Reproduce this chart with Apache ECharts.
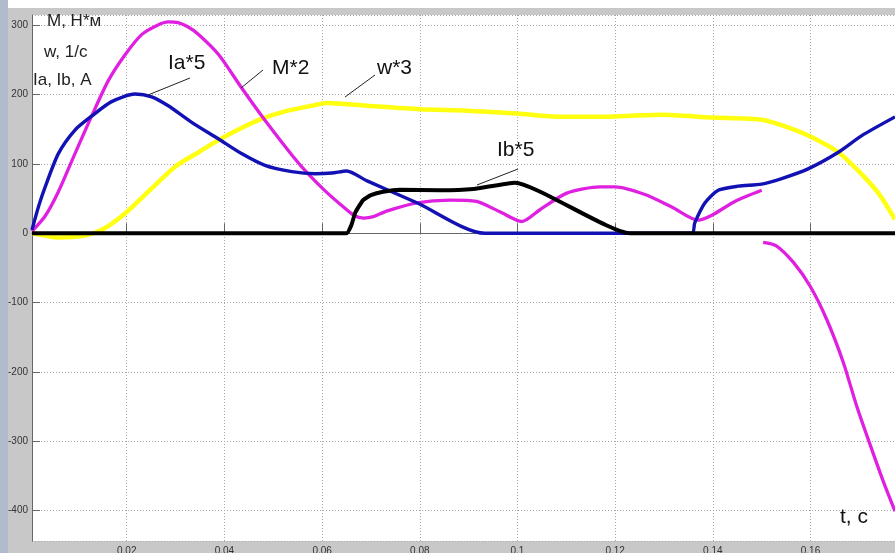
<!DOCTYPE html>
<html><head><meta charset="utf-8">
<script src="https://cdn.jsdelivr.net/npm/echarts@6/dist/echarts.min.js"></script>
<style>html,body{margin:0;padding:0;background:#c8c8c8;overflow:hidden}#c{width:895px;height:553px}</style>
</head><body><div id="c"></div>
<script>
// time axis range (s) and value range
const tMin = 0.0006, tMax = 0.1773;
const yMin = -444, yMax = 315;

// w*3 (yellow)
const tW = [0.0006, 0.003, 0.006, 0.0108, 0.0149, 0.0197, 0.0244, 0.0299, 0.0347, 0.0394, 0.0435, 0.0476, 0.0524, 0.0585, 0.0609, 0.0691, 0.08, 0.0896, 0.0998, 0.1087, 0.1169, 0.1295, 0.1398, 0.15, 0.1554, 0.1602, 0.1657, 0.1698, 0.1739, 0.1773];
const vW = [0, -3, -6, -4, 5, 29, 60, 96, 117, 137, 152, 165, 176, 185, 188, 184, 179, 177, 173, 168, 168, 171, 167, 164, 153, 139, 117, 90, 58, 20];

// M*2 (magenta), null = gap
const tM = [0.0006, 0.0033, 0.006, 0.0094, 0.0128, 0.0162, 0.0197, 0.0231, 0.0262, 0.0285, 0.0305, 0.0325, 0.0347, 0.0388, 0.0435, 0.0483, 0.0538, 0.0571, 0.0605, 0.0637, 0.0665, 0.0685, 0.0705, 0.0732, 0.0794, 0.0862, 0.0916, 0.0964, 0.1009, 0.1046, 0.1101, 0.1169, 0.12, 0.1261, 0.1316, 0.137, 0.1398, 0.1445, 0.15, 0.1501, 0.1503, 0.153, 0.1565, 0.1599, 0.1633, 0.1667, 0.1694, 0.1722, 0.1749, 0.1773];
const vM = [3, 25, 60, 115, 169, 220, 258, 287, 300, 305, 304, 298, 287, 258, 210, 163, 113, 86, 62, 42, 26, 22, 24, 32, 44, 48, 46, 31, 17, 34, 58, 67, 67, 56, 38, 19, 26, 46, 62, null, -13, -18, -42, -76, -124, -186, -248, -305, -358, -401];

// Ia*5 (blue)
const tIa = [0.0006, 0.002, 0.0033, 0.006, 0.0094, 0.0128, 0.0169, 0.0217, 0.0251, 0.0285, 0.0333, 0.0388, 0.0435, 0.0483, 0.0538, 0.0585, 0.062, 0.065, 0.0691, 0.0794, 0.0933, 0.1357, 0.1363, 0.1384, 0.1411, 0.1452, 0.15, 0.1541, 0.1595, 0.1657, 0.1705, 0.1773];
const vIa = [5, 40, 67, 115, 149, 169, 190, 201, 197, 184, 160, 136, 115, 98, 89, 86, 87, 90, 76, 44, 0, 0, 15, 44, 62, 68, 71, 79, 93, 117, 141, 168];

// Ib*5 (black)
const tIb = [0.0006, 0.065, 0.066, 0.0668, 0.0684, 0.07, 0.0725, 0.0759, 0.0841, 0.091, 0.0995, 0.123, 0.1773];
const vIb = [0, 0, 12, 30, 48, 55, 60, 63, 62, 64, 73, 0, 0];

const pairs = (t, v) => t.map((x, i) => [x, v[i] === null ? '-' : v[i]]);

const chart = echarts.init(document.getElementById('c'), null, {renderer: 'canvas'});
const lblFont = 'Liberation Sans, Arial, sans-serif';
const axisCommon = {
  axisLine: {show: true, lineStyle: {color: '#666', width: 1}},
  splitLine: {show: true, lineStyle: {color: '#a8a8a8', type: [1, 2], width: 1}},
  axisLabel: {color: '#333', fontSize: 10, fontFamily: lblFont, showMinLabel: false, showMaxLabel: false}
};
chart.setOption({
  animation: false,
  backgroundColor: '#c8c8c8',
  grid: {left: 32, right: 0, top: 15, bottom: 12, show: true, backgroundColor: '#ffffff', borderWidth: 0, containLabel: false, outerBoundsMode: 'none'},
  xAxis: Object.assign({}, axisCommon, {
    type: 'value', min: tMin, max: tMax, splitNumber: 9,
    axisTick: {show: true, inside: true, length: 10, lineStyle: {color: '#666'}},
    axisLabel: Object.assign({}, axisCommon.axisLabel, {margin: 5})
  }),
  yAxis: Object.assign({}, axisCommon, {
    type: 'value', min: yMin, max: yMax, splitNumber: 8,
    axisTick: {show: true, inside: true, length: 8, lineStyle: {color: '#666'}},
    axisLabel: Object.assign({}, axisCommon.axisLabel, {margin: 4})
  }),
  series: [
    {name: 'w*3', type: 'line', data: pairs(tW, vW), symbol: 'none', smooth: 0.25, lineStyle: {color: '#ffff10', width: 4.5}, z: 2},
    {name: 'M*2', type: 'line', data: pairs(tM, vM), symbol: 'none', smooth: 0.25, lineStyle: {color: '#e020e0', width: 3.3}, z: 3},
    {name: 'Ia*5', type: 'line', data: pairs(tIa, vIa), symbol: 'none', smooth: 0.25, lineStyle: {color: '#1212b4', width: 3.4}, z: 4},
    {name: 'Ib*5', type: 'line', data: pairs(tIb, vIb), symbol: 'none', smooth: 0.15, lineStyle: {color: '#000000', width: 4}, z: 5}
  ],
  graphic: [
    {type: 'rect', shape: {x: 8, y: 0, width: 887, height: 8}, style: {fill: '#ffffff'}, silent: true},
    {type: 'rect', shape: {x: 0, y: 0, width: 8, height: 553}, style: {fill: '#b0bccd'}, silent: true},
    {type: 'text', left: 47, top: 13, style: {text: 'M, Н*м', font: '17px "Liberation Sans", Arial, sans-serif', fill: '#222'}, z: 10},
    {type: 'text', left: 44, top: 44, style: {text: 'w, 1/с', font: '17px "Liberation Sans", Arial, sans-serif', fill: '#222'}, z: 10},
    {type: 'text', left: 33, top: 72, style: {text: 'Ia, Ib, A', font: '17px "Liberation Sans", Arial, sans-serif', fill: '#222'}, z: 10},
    {type: 'text', left: 168, top: 53, style: {text: 'Ia*5', font: '21px "Liberation Sans", Arial, sans-serif', fill: '#111'}, z: 10},
    {type: 'text', left: 272, top: 58, style: {text: 'M*2', font: '21px "Liberation Sans", Arial, sans-serif', fill: '#111'}, z: 10},
    {type: 'text', left: 377, top: 58, style: {text: 'w*3', font: '21px "Liberation Sans", Arial, sans-serif', fill: '#111'}, z: 10},
    {type: 'text', left: 497, top: 140, style: {text: 'Ib*5', font: '21px "Liberation Sans", Arial, sans-serif', fill: '#111'}, z: 10},
    {type: 'text', left: 840, top: 507, style: {text: 't, с', font: '21px "Liberation Sans", Arial, sans-serif', fill: '#111'}, z: 10},
    {type: 'line', shape: {x1: 190, y1: 78, x2: 148, y2: 95}, style: {stroke: '#222', lineWidth: 1}, z: 10},
    {type: 'line', shape: {x1: 263, y1: 70, x2: 241, y2: 88}, style: {stroke: '#222', lineWidth: 1}, z: 10},
    {type: 'line', shape: {x1: 375, y1: 75, x2: 345, y2: 97}, style: {stroke: '#222', lineWidth: 1}, z: 10},
    {type: 'line', shape: {x1: 518, y1: 169, x2: 477, y2: 185}, style: {stroke: '#222', lineWidth: 1}, z: 10}
  ]
});
</script>
</body></html>
